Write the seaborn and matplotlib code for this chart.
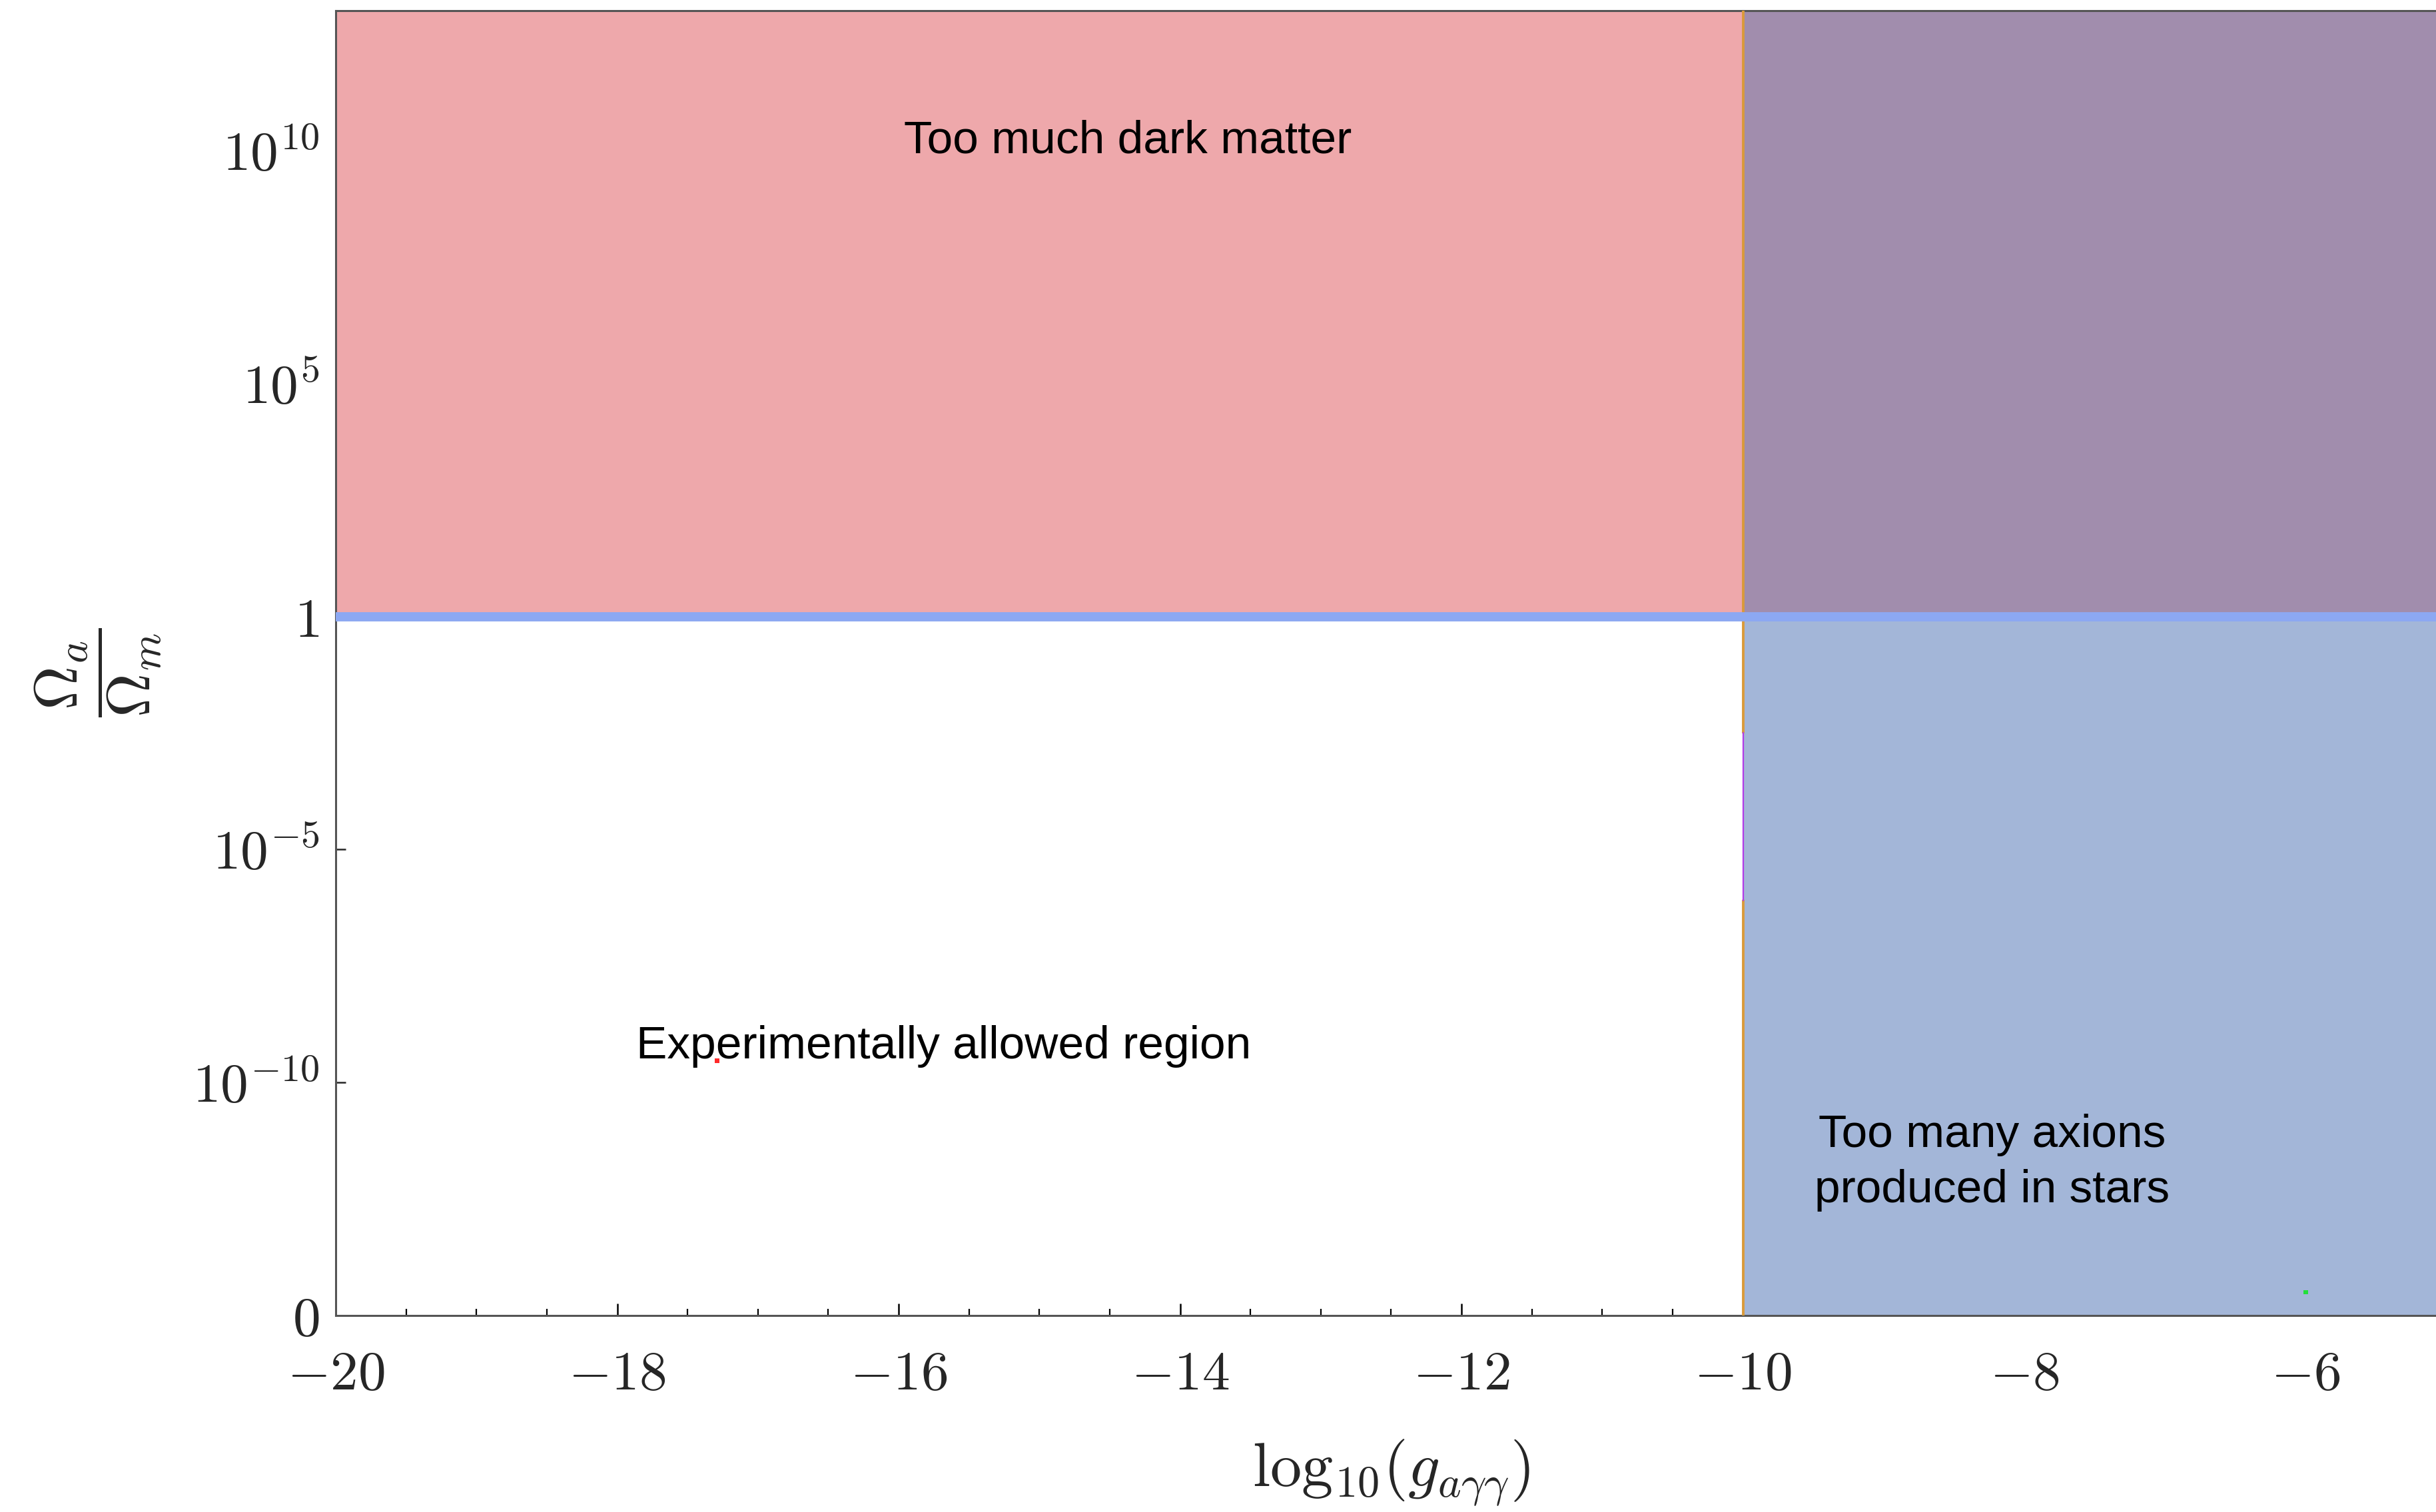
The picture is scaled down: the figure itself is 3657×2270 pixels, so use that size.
import numpy as np
import pandas as pd
import matplotlib
matplotlib.use("Agg")
import matplotlib.pyplot as plt
from matplotlib.ticker import FixedLocator, MultipleLocator, NullLocator
import seaborn as sns

# ---- data -----------------------------------------------------------------
# coupling axis: log10(g_{a gamma gamma}); abundance axis: Omega_a / Omega_m
g_range = [-20.0, -5.0]
omega_range = [1e-15, 1e13]          # bottom of the log axis is shown as "0"
omega_dm = 1.0                        # Omega_a = Omega_m
g_star = -10.0                        # stellar-production bound

x_ticks = [-20, -18, -16, -14, -12, -10, -8, -6]
x_tick_labels = [r"$-20$", r"$-18$", r"$-16$", r"$-14$", r"$-12$",
                 r"$-10$", r"$-8$", r"$-6$"]
y_ticks = [1e-15, 1e-10, 1e-5, 1.0, 1e5, 1e10]
y_tick_labels = [r"$0$", r"$10^{-10}$", r"$10^{-5}$", r"$1$",
                 r"$10^{5}$", r"$10^{10}$"]

# excluded regions (log10 g from/to, Omega from/to)
region_names = ["dark_matter", "stars", "both"]
region_g0 = [-20.0, -10.0, -10.0]
region_g1 = [-10.0, -5.0, -5.0]
region_om0 = [1.0, 1e-15, 1.0]
region_om1 = [1e13, 1.0, 1e13]

# stellar boundary: orange stretches and a short violet stretch
orange_om_upper = [10 ** -2.5, 1e13]
orange_om_lower = [1e-15, 10 ** -6.1]
violet_om = [10 ** -6.1, 10 ** -2.5]

# isolated sample points
pt_g = [-17.29, -6.0]
pt_om = [10 ** -9.53, 10 ** -14.5]
pt_kind = ["red", "green"]

# annotations
notes = ["Too much dark matter", "Experimentally allowed region",
         "Too many axions\nproduced in stars"]
note_g = [-14.37, -15.68, -8.23]
note_om = [10 ** 10.2, 10 ** -9.23, 10 ** -11.72]

# ---- style ----------------------------------------------------------------
sns.set_style("ticks")
plt.rcParams["mathtext.fontset"] = "cm"
plt.rcParams["font.family"] = ["Liberation Sans", "DejaVu Sans"]

region_colors = {"dark_matter": "#EEA8AB", "stars": "#A3B6D8", "both": "#A18DAD"}

W, H, DPI = 3657, 2270, 100
fig = plt.figure(figsize=(W / DPI, H / DPI), dpi=DPI, facecolor="white")
ax = fig.add_axes([504 / W, 1 - 1975 / H, 3169 / W, 1959 / H])
ax.set_facecolor("white")
ax.set_yscale("log")

for name, a, b, c, d in zip(region_names, region_g0, region_g1,
                            region_om0, region_om1):
    ax.fill_between([a, b], [c, c], [d, d], color=region_colors[name],
                    lw=0, zorder=1)

# stellar bound (vertical) and dark-matter bound (horizontal)
for seg in (orange_om_upper, orange_om_lower):
    sns.lineplot(x=[g_star, g_star], y=seg, orient="y", sort=False,
                 color="#DA9A3A", lw=2.8, ax=ax, zorder=3)
sns.lineplot(x=[g_star, g_star], y=violet_om, orient="y", sort=False,
             color="#B23CE8", lw=1.6, ax=ax, zorder=3)
bound_h = pd.DataFrame({"g": g_range, "om": [omega_dm, omega_dm]})
sns.lineplot(data=bound_h, x="g", y="om", color="#8CA8F2", lw=10,
             ax=ax, zorder=4)

pts = pd.DataFrame({"g": pt_g, "om": pt_om, "kind": pt_kind})
sns.scatterplot(data=pts, x="g", y="om", hue="kind",
                palette={"red": "#FF2A2A", "green": "#22E03A"},
                marker="s", s=22, linewidth=0, legend=False, ax=ax, zorder=5)

for txt, gx, oy in zip(notes, note_g, note_om):
    ax.text(gx, oy, txt, ha="center", va="center", fontsize=50,
            family=["Liberation Sans", "DejaVu Sans"], color="black",
            linespacing=1.38, zorder=6)

ax.set_xlim(*g_range)
ax.set_ylim(*omega_range)

ax.xaxis.set_major_locator(FixedLocator(x_ticks))
ax.set_xticklabels(x_tick_labels)
ax.xaxis.set_minor_locator(MultipleLocator(0.5))
ax.yaxis.set_major_locator(FixedLocator(y_ticks))
ax.set_yticklabels(y_tick_labels)
ax.yaxis.set_minor_locator(NullLocator())

ax.tick_params(axis="x", which="both", direction="in", top=True,
               bottom=True, color="black", labelsize=60, pad=36)
ax.tick_params(axis="x", which="major", length=13, width=1.8)
ax.tick_params(axis="x", which="minor", length=7, width=1.6)
ax.tick_params(axis="y", which="major", direction="in", left=True,
               right=False, length=11, width=1.8, labelsize=60, pad=18)

for side in ["left", "bottom", "top"]:
    ax.spines[side].set_color("#555555")
    ax.spines[side].set_linewidth(2.2)
ax.spines["right"].set_visible(False)

ax.set_xlabel(r"$\mathrm{log}_{10}(g_{a\gamma\gamma})$", fontsize=68)
ax.xaxis.label.set_va("center")
ax.xaxis.set_label_coords(0.5, -0.1205)
ax.set_ylabel(r"$\dfrac{\Omega_a}{\Omega_m}$", fontsize=66, rotation=90)
ax.yaxis.label.set_va("center")
ax.yaxis.label.set_ha("center")
ax.yaxis.set_label_coords(-0.1127, 0.4926)

fig.savefig("out.png", dpi=DPI, facecolor="white")
